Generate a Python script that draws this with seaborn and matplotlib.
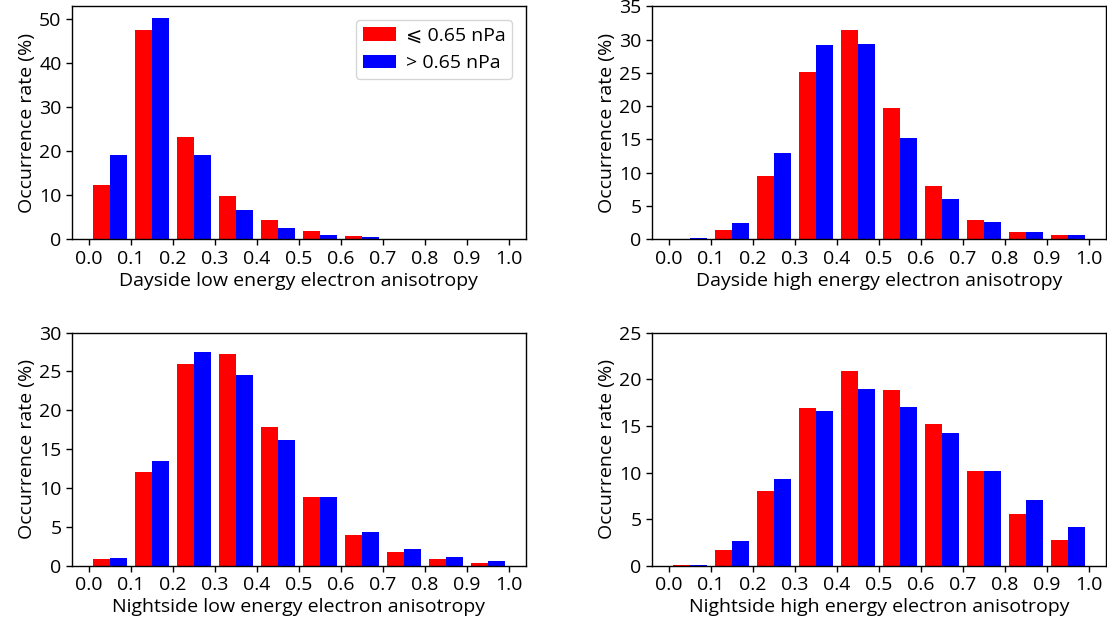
import numpy as np
import pandas as pd
import matplotlib
matplotlib.use("Agg")
import matplotlib.pyplot as plt
import seaborn as sns

# anisotropy bins (edges) and the two pressure groups
bin_edges = [round(0.1 * k, 1) for k in range(11)]
groups = ["\u2a7d 0.65 nPa", "> 0.65 nPa"]
colors = {groups[0]: "#ff0000", groups[1]: "#0000ff"}

# occurrence rate (%) per bin
day_low_lo = [12.3, 47.7, 23.2, 9.8, 4.3, 1.8, 0.7, 0.2, 0.2, 0.05]
day_low_hi = [19.1, 50.4, 19.1, 6.6, 2.7, 1.1, 0.45, 0.2, 0.15, 0.03]

day_high_lo = [0.05, 1.4, 9.45, 25.1, 31.5, 19.8, 7.95, 2.85, 1.05, 0.6]
day_high_hi = [0.15, 2.4, 12.9, 29.25, 29.4, 15.3, 6.0, 2.55, 1.05, 0.6]

night_low_lo = [0.9, 12.1, 26.0, 27.3, 17.9, 8.8, 3.9, 1.8, 0.9, 0.4]
night_low_hi = [1.0, 13.5, 27.5, 24.6, 16.2, 8.9, 4.4, 2.2, 1.15, 0.65]

night_high_lo = [0.1, 1.7, 8.05, 16.9, 20.85, 18.8, 15.15, 10.2, 5.6, 2.8]
night_high_hi = [0.1, 2.7, 9.25, 16.55, 19.0, 17.0, 14.2, 10.2, 7.0, 4.2]

panels = [
    ("Dayside low energy electron anisotropy", day_low_lo, day_low_hi, 53, 10),
    ("Dayside high energy electron anisotropy", day_high_lo, day_high_hi, 35, 5),
    ("Nightside low energy electron anisotropy", night_low_lo, night_low_hi, 30, 5),
    ("Nightside high energy electron anisotropy", night_high_lo, night_high_hi, 25, 5),
]


def make_frame(lo, hi):
    centers = [(a + b) / 2 for a, b in zip(bin_edges[:-1], bin_edges[1:])]
    rows = []
    for g, vals in zip(groups, [lo, hi]):
        for c, v in zip(centers, vals):
            rows.append({"anisotropy": c, "rate": v, "group": g})
    return pd.DataFrame(rows)


sns.set_style("ticks")
plt.rcParams["font.family"] = ["Open Sans", "DejaVu Sans"]
plt.rcParams["font.size"] = 14
for key in ["text.color", "axes.labelcolor", "xtick.color", "ytick.color"]:
    plt.rcParams[key] = "black"

fig, axes = plt.subplots(2, 2, figsize=(11.07, 6.3), dpi=100)
fig.subplots_adjust(left=0.065, right=0.999, top=0.99, bottom=0.102,
                    wspace=0.278, hspace=0.40)

for i, (ax, (label, lo, hi, ytop, ystep)) in enumerate(zip(axes.flat, panels)):
    df = make_frame(lo, hi)
    sns.histplot(data=df, x="anisotropy", weights="rate", hue="group",
                 hue_order=groups, palette=colors, bins=bin_edges,
                 multiple="dodge", shrink=0.8, alpha=1, linewidth=0,
                 legend=(i == 0), ax=ax)
    ax.set_xlim(-0.04, 1.04)
    ax.set_ylim(0, ytop)
    ax.set_xticks(bin_edges)
    ax.set_xticklabels([f"{v:.1f}" for v in bin_edges])
    ax.set_yticks(np.arange(0, ytop + 0.1, ystep))
    ax.set_xlabel(label, fontsize=14, labelpad=3)
    ax.set_ylabel("Occurrence rate (%)", fontsize=14, labelpad=2)
    ax.tick_params(labelsize=14, length=4, width=1, colors="black")
    for sp in ax.spines.values():
        sp.set_visible(True)
        sp.set_linewidth(1)
        sp.set_color("black")
    if i == 0:
        sns.move_legend(ax, "upper right", title=None, fontsize=14,
                        frameon=True, borderaxespad=0.7, handlelength=1.7,
                        handletextpad=0.5, borderpad=0.35)

fig.savefig("out.png", dpi=100)
